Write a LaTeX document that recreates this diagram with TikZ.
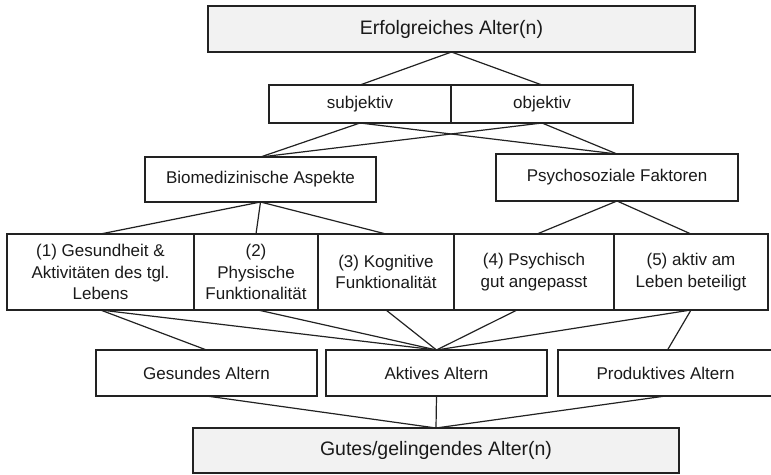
\documentclass[tikz,border=0pt]{standalone}
\usepackage{fontspec}
\setmainfont{Liberation Sans}
\definecolor{ln}{HTML}{222222}
\definecolor{tx}{HTML}{1A1A1A}
\definecolor{gbox}{HTML}{F2F2F2}
\tikzset{
  box/.style={draw=ln, line width=1.25pt, fill=white, inner sep=0pt, outer sep=0pt,
              align=center, text=tx, font=\fontsize{17}{21.5}\selectfont},
  gbox/.style={box, fill=gbox, font=\fontsize{19.5}{23}\selectfont},
  conn/.style={draw=ln, line width=1.2pt}
}
\begin{document}
\begin{tikzpicture}[x=1pt,y=-1pt]
\useasboundingbox (0,0) rectangle (771,474);
% boxes
\node[gbox, minimum width=487pt, minimum height=46pt] (top) at (451.5,29) {Erfolgreiches Alter(n)};
\node[box, minimum width=182pt, minimum height=38pt] (subj) at (360,104) {subjektiv};
\node[box, minimum width=182pt, minimum height=38pt] (obj) at (542,104) {objektiv};
\node[box, minimum width=231pt, minimum height=45pt] (bio) at (260.5,179.5) {Biomedizinische Aspekte};
\node[box, minimum width=242pt, minimum height=47pt] (psy) at (617,177.5) {Psychosoziale Faktoren};
\node[box, minimum width=187pt, minimum height=76pt] (c1) at (100.5,272) {(1) Gesundheit \&\\Aktivitäten des tgl.\\Lebens};
\node[box, minimum width=124pt, minimum height=76pt] (c2) at (256,272) {(2)\\Physische\\Funktionalität};
\node[box, minimum width=136pt, minimum height=76pt] (c3) at (386,272) {(3) Kognitive\\Funktionalität};
\node[box, minimum width=160pt, minimum height=76pt] (c4) at (534,272) {(4) Psychisch\\gut angepasst};
\node[box, minimum width=154pt, minimum height=76pt] (c5) at (691,272) {(5) aktiv am\\Leben beteiligt};
\node[box, minimum width=221pt, minimum height=46pt] (ges) at (206.5,373) {Gesundes Altern};
\node[box, minimum width=221pt, minimum height=46pt] (akt) at (436.5,373) {Aktives Altern};
\node[box, minimum width=215pt, minimum height=46pt] (pro) at (665.5,373) {Produktives Altern};
\node[gbox, minimum width=486pt, minimum height=45pt] (gut) at (436,450.5) {Gutes/gelingendes Alter(n)};
% connectors
\draw[conn] (top.south) -- (subj.north);
\draw[conn] (top.south) -- (obj.north);
\draw[conn] (subj.south) -- (bio.north);
\draw[conn] (subj.south) -- (psy.north);
\draw[conn] (obj.south) -- (bio.north);
\draw[conn] (obj.south) -- (psy.north);
\draw[conn] (bio.south) -- (c1.north);
\draw[conn] (bio.south) -- (c2.north);
\draw[conn] (bio.south) -- (c3.north);
\draw[conn] (psy.south) -- ([xshift=3pt]c4.north);
\draw[conn] (psy.south) -- (c5.north);
\draw[conn] (c1.south) -- (ges.north);
\draw[conn] (c1.south) -- (akt.north);
\draw[conn] ([xshift=2pt]c2.south) -- (akt.north);
\draw[conn] (c3.south) -- (akt.north);
\draw[conn] ([xshift=-17pt]c4.south) -- (akt.north);
\draw[conn] (c5.south) -- (akt.north);
\draw[conn] (c5.south) -- ([xshift=2pt]pro.north);
\draw[conn] (ges.south) -- (gut.north);
\draw[conn] (akt.south) -- (gut.north);
\draw[conn] (pro.south) -- (gut.north);
\end{tikzpicture}
\end{document}
